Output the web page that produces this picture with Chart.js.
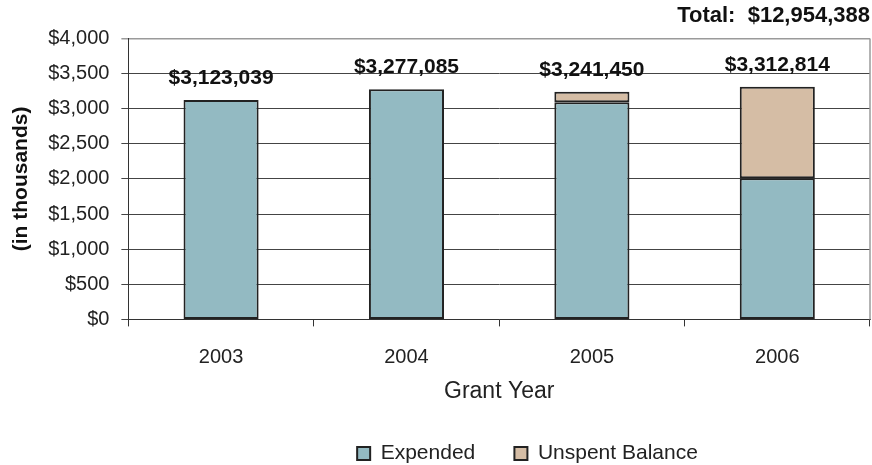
<!DOCTYPE html>
<html lang="en">
<head>
    <meta charset="UTF-8">
    <title>Grant Year Expenditures</title>
    <script src="https://cdn.jsdelivr.net/npm/chart.js"></script>
    <style>
        html, body { margin: 0; padding: 0; background: #fff; }
        #wrap { width: 872px; height: 465px; }
    </style>
</head>
<body>
    <div id="wrap"><canvas id="grantChart"></canvas></div>

    <script>
        // Data (in thousands)
        const years = ['2003', '2004', '2005', '2006'];
        const expended = [3123, 3277, 3090, 2010];
        const unspent = [0, 0, 151, 1303];
        const totalLabels = ['$3,123,039', '$3,277,085', '$3,241,450', '$3,312,814'];
        const grandTotal = 'Total:  $12,954,388';

        const font = "'Liberation Sans', Arial, sans-serif";

        // totals above each stack + right border of plot area
        const extras = {
            id: 'extras',
            afterLayout(chart) {
                // legend sits a bit right of centre in the original
                chart.legend.left += 88;
                chart.legend.right += 88;
            },
            afterDatasetsDraw(chart) {
                const { ctx, chartArea } = chart;
                const yScale = chart.scales.y;
                const meta = chart.getDatasetMeta(0);
                ctx.save();
                ctx.strokeStyle = '#9a9a9a';
                ctx.lineWidth = 1.5;
                ctx.beginPath();
                ctx.moveTo(chartArea.right, chartArea.top);
                ctx.lineTo(chartArea.right, chartArea.bottom);
                ctx.stroke();

                ctx.fillStyle = '#111';
                ctx.font = 'bold 21px ' + font;
                ctx.textAlign = 'center';
                ctx.textBaseline = 'alphabetic';
                meta.data.forEach((bar, i) => {
                    const top = yScale.getPixelForValue(expended[i] + unspent[i]);
                    ctx.fillText(totalLabels[i], bar.x, top - 16);
                });
                ctx.restore();
            }
        };

        new Chart(document.getElementById('grantChart'), {
            type: 'bar',
            data: {
                labels: years,
                datasets: [{
                    label: 'Expended',
                    data: expended,
                    backgroundColor: '#93bac2',
                    borderColor: '#222',
                    borderWidth: 2,
                    borderSkipped: false
                }, {
                    label: 'Unspent Balance',
                    data: unspent,
                    backgroundColor: '#d5bda5',
                    borderColor: '#222',
                    borderWidth: 2,
                    borderSkipped: false
                }]
            },
            options: {
                responsive: true,
                maintainAspectRatio: false,
                animation: false,
                layout: { padding: { left: 9, right: 2, top: 0, bottom: -9 } },
                datasets: { bar: { categoryPercentage: 1, barPercentage: 0.405 } },
                plugins: {
                    title: {
                        display: true,
                        text: grandTotal,
                        align: 'end',
                        color: '#111',
                        font: { family: font, size: 22, weight: 'bold' },
                        padding: { top: 3, bottom: 9 }
                    },
                    legend: {
                        position: 'bottom',
                        labels: {
                            color: '#222',
                            font: { family: font, size: 21 },
                            boxWidth: 13,
                            boxHeight: 13,
                            padding: 10,
                            // wider gap between the two entries
                            generateLabels: (chart) => {
                                const items = Chart.defaults.plugins.legend.labels.generateLabels(chart);
                                items[0].text += '     ';
                                return items;
                            }
                        }
                    },
                    tooltip: { enabled: false }
                },
                scales: {
                    x: {
                        stacked: true,
                        grid: {
                            offset: true,
                            drawOnChartArea: false,
                            drawTicks: true,
                            tickLength: 7,
                            color: '#333'
                        },
                        border: { color: '#333', width: 1 },
                        ticks: {
                            color: '#222',
                            font: { family: font, size: 20 },
                            padding: 19
                        },
                        title: {
                            display: true,
                            text: 'Grant Year',
                            color: '#222',
                            font: { family: font, size: 23 },
                            padding: { top: -11, bottom: 28 }
                        }
                    },
                    y: {
                        stacked: true,
                        min: 0,
                        max: 4000,
                        grid: {
                            color: (c) => c.tick && c.tick.value === 4000 ? '#9a9a9a' : '#444',
                            lineWidth: (c) => c.tick && c.tick.value === 4000 ? 1.5 : 1,
                            tickLength: 7
                        },
                        border: { color: '#333', width: 1 },
                        ticks: {
                            stepSize: 500,
                            color: '#222',
                            font: { family: font, size: 20 },
                            padding: 12,
                            callback: (v) => '$' + v.toLocaleString('en-US')
                        },
                        title: {
                            display: true,
                            text: '(in thousands)',
                            color: '#111',
                            font: { family: font, size: 21, weight: 'bold' },
                            padding: { top: 0, bottom: 2 }
                        }
                    }
                }
            },
            plugins: [extras]
        });
    </script>
</body>
</html>
